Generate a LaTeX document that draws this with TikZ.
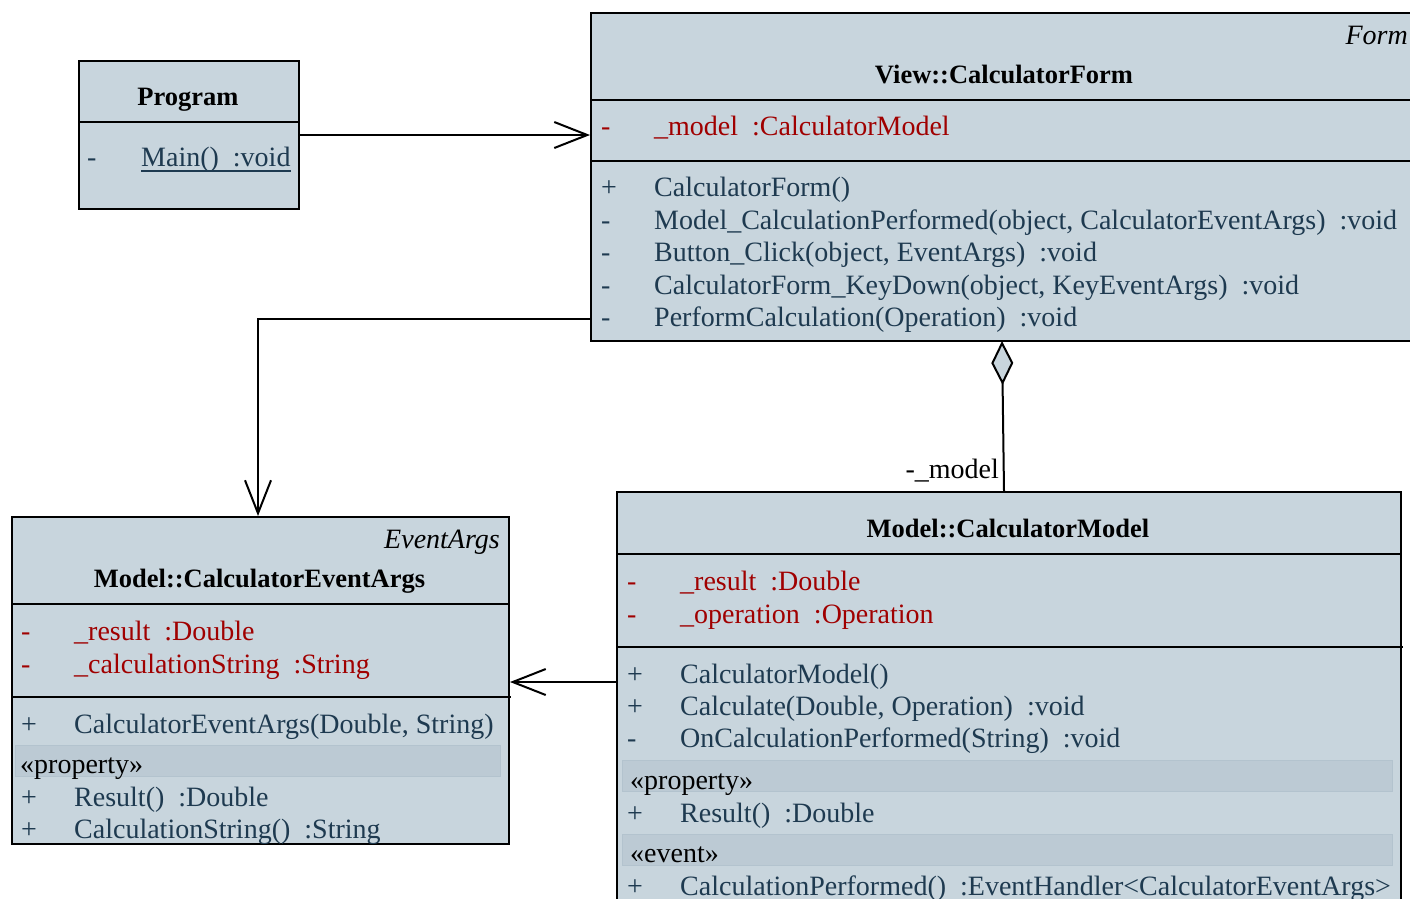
\documentclass[tikz,border=0pt]{standalone}
\usepackage{fontspec}
\setmainfont{Liberation Serif}
\usetikzlibrary{arrows.meta}
\definecolor{boxfill}{HTML}{C8D5DD}
\definecolor{navy}{HTML}{1E3A50}
\definecolor{attrred}{HTML}{A00000}
\definecolor{bandfill}{HTML}{BCCAD4}
\definecolor{banddraw}{HTML}{B3C3CE}
\tikzset{
 umlbox/.style={draw=black, line width=2pt, fill=boxfill, rectangle, inner sep=0pt, anchor=north west},
 sepline/.style={line width=2pt, draw=black},
 band/.style={fill=bandfill, draw=banddraw, line width=1pt},
 txt/.style={inner sep=0pt, anchor=base west, font=\fontsize{28}{32}\selectfont},
 meth/.style={txt, text=navy},
 attr/.style={txt, text=attrred},
 plain/.style={txt, text=black},
 title/.style={inner sep=0pt, anchor=base, font=\fontsize{26.5}{30}\selectfont\bfseries},
 stereo/.style={inner sep=0pt, anchor=base east, font=\fontsize{28}{32}\selectfont\itshape},
 assoc/.style={line width=2pt, -{Straight Barb[length=33pt,width=26pt]}},
 aggr/.style={line width=2pt, {Diamond[length=44pt,width=22pt,fill=boxfill]}-},
}
\begin{document}
\begin{tikzpicture}[x=1pt,y=-1pt]
\useasboundingbox (0,0) rectangle (1410,898);
\clip (0,0) rectangle (1410,898);

% ---------- Program
\node[umlbox, minimum width=220pt, minimum height=148pt] (prog) at (78,60) {};
\draw[sepline] (78,122) -- (298,122);
\node[title] (progT) at (188,105) {Program};
\node[meth] (progS) at (87,166) {-};
\node[meth] (progM) at (141,166) {Main()\ \ :void};
\draw[navy, line width=1.6pt] (141,171) -- (progM.east |- 0,171);

% ---------- View::CalculatorForm
\node[umlbox, minimum width=828pt, minimum height=328pt] (form) at (590,12) {};
\draw[sepline] (590,100) -- (1418,100);
\draw[sepline] (590,161) -- (1418,161);
\node[stereo] (formS) at (1408,44) {Form};
\node[title] (formT) at (1004,83) {View::CalculatorForm};
\node[attr] (formA1s) at (601,135) {-};
\node[attr] (formA1) at (654,135) {\_model\ \ :CalculatorModel};
\node[meth] (formM1s) at (601,196) {+};
\node[meth] (formM1) at (654,196) {CalculatorForm()};
\node[meth] (formM2s) at (601,229) {-};
\node[meth] (formM2) at (654,229) {Model\_CalculationPerformed(object, CalculatorEventArgs)\ \ :void};
\node[meth] (formM3s) at (601,261) {-};
\node[meth] (formM3) at (654,261) {Button\_Click(object, EventArgs)\ \ :void};
\node[meth] (formM4s) at (601,294) {-};
\node[meth] (formM4) at (654,294) {CalculatorForm\_KeyDown(object, KeyEventArgs)\ \ :void};
\node[meth] (formM5s) at (601,326) {-};
\node[meth] (formM5) at (654,326) {PerformCalculation(Operation)\ \ :void};

% ---------- Model::CalculatorEventArgs
\node[umlbox, minimum width=497pt, minimum height=327pt] (ea) at (11,516) {};
\draw[sepline] (11,604) -- (508,604);
\draw[sepline] (11,697) -- (511,697);
\node[stereo] (eaS) at (500,548) {EventArgs};
\node[title] (eaT) at (259.5,587) {Model::CalculatorEventArgs};
\node[attr] (eaA1s) at (21,640) {-};
\node[attr] (eaA1) at (74,640) {\_result\ \ :Double};
\node[attr] (eaA2s) at (21,673) {-};
\node[attr] (eaA2) at (74,673) {\_calculationString\ \ :String};
\node[meth] (eaM1s) at (21,733) {+};
\node[meth] (eaM1) at (74,733) {CalculatorEventArgs(Double, String)};
\path[band] (15,745) rectangle (500,776);
\node[plain] (eaP) at (20,773) {«property»};
\node[meth] (eaM2s) at (21,806) {+};
\node[meth] (eaM2) at (74,806) {Result()\ \ :Double};
\node[meth] (eaM3s) at (21,838) {+};
\node[meth] (eaM3) at (74,838) {CalculationString()\ \ :String};

% ---------- Model::CalculatorModel
\node[umlbox, minimum width=784pt, minimum height=430pt] (model) at (616,491) {};
\draw[sepline] (616,554) -- (1400,554);
\draw[sepline] (616,647) -- (1403,647);
\node[title] (modelT) at (1008,537) {Model::CalculatorModel};
\node[attr] (modelA1s) at (627,590) {-};
\node[attr] (modelA1) at (680,590) {\_result\ \ :Double};
\node[attr] (modelA2s) at (627,623) {-};
\node[attr] (modelA2) at (680,623) {\_operation\ \ :Operation};
\node[meth] (modelM1s) at (627,683) {+};
\node[meth] (modelM1) at (680,683) {CalculatorModel()};
\node[meth] (modelM2s) at (627,715) {+};
\node[meth] (modelM2) at (680,715) {Calculate(Double, Operation)\ \ :void};
\node[meth] (modelM3s) at (627,747) {-};
\node[meth] (modelM3) at (680,747) {OnCalculationPerformed(String)\ \ :void};
\path[band] (622,760) rectangle (1392,791);
\node[plain] (modelP) at (630,789) {«property»};
\node[meth] (modelM4s) at (627,822) {+};
\node[meth] (modelM4) at (680,822) {Result()\ \ :Double};
\path[band] (622,834) rectangle (1392,865);
\node[plain] (modelE) at (630,862) {«event»};
\node[meth] (modelM5s) at (627,895) {+};
\node[meth] (modelM5) at (680,895) {CalculationPerformed()\ \ :EventHandler<CalculatorEventArgs>};

% ---------- connectors
\draw[assoc] (prog.east) -- (prog.east -| form.west);
\coordinate (f1) at (590,319);
\draw[assoc] (f1) -| ([xshift=-2.5pt]ea.north);
\coordinate (m1) at (616,682);
\draw[assoc] (m1) -- (m1 -| ea.east);
\coordinate (d1) at (1002,341);
\coordinate (d2) at (1004,491);
\draw[aggr] (d1) -- (d2);
\node[plain, anchor=base east] (lbl) at (999,478) {-\_model};
\end{tikzpicture}
\end{document}
